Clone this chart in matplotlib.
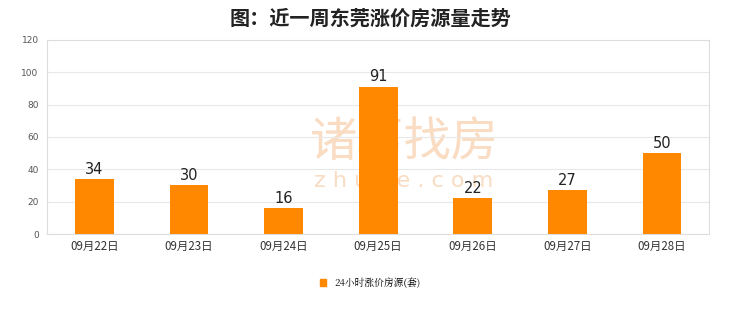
import matplotlib
matplotlib.use("Agg")
import matplotlib.pyplot as plt
from matplotlib.patches import Patch

plt.rcParams['font.family'] = ['Noto Sans CJK SC', 'DejaVu Sans']

categories = ["09月22日", "09月23日", "09月24日", "09月25日", "09月26日", "09月27日", "09月28日"]
values = [34, 30, 16, 91, 22, 27, 50]
series_name = "24小时涨价房源(套)"
title = "图：近一周东莞涨价房源量走势"
yticks = [0, 20, 40, 60, 80, 100, 120]

bar_color = "#FF8800"

fig = plt.figure(figsize=(7.4, 3.12), dpi=100)
ax = fig.add_axes([0.0635, 0.25, 0.895, 0.622])

x = list(range(len(categories)))
bars = ax.bar(x, values, width=0.41, color=bar_color, zorder=3)
for xi, v in zip(x, values):
    ax.text(xi, v + 1.5, str(v), ha='center', va='bottom', fontsize=10.5,
            color='#222222', family=['DejaVu Sans'], zorder=4)

ax.set_xlim(-0.5, len(categories) - 0.5)
ax.set_ylim(0, 120)
ax.set_yticks(yticks)
ax.set_yticklabels([str(t) for t in yticks], fontsize=6.5, color='#555555',
                   family=['DejaVu Sans'])
ax.set_xticks(x)
ax.set_xticklabels(categories, fontsize=8.3, color='#333333',
                   family=['Noto Sans CJK SC', 'DejaVu Sans'])
ax.tick_params(axis='both', length=0, pad=4)
ax.tick_params(axis='y', pad=6)
ax.grid(axis='y', color='#e8e8e8', linewidth=0.8, zorder=0)
for s in ax.spines.values():
    s.set_color('#dddddd')
    s.set_linewidth(0.8)

# watermark (behind bars)
ax.text(404 / 740, 1 - 143 / 312, "诸葛找房", transform=fig.transFigure,
        ha='center', va='center', fontsize=34, color='#f9dcc2', zorder=1)
ax.text(404 / 740, 1 - 181 / 312, "z h u g e . c o m", transform=fig.transFigure,
        ha='center', va='center', fontsize=16, color='#f9dcc2', zorder=1,
        family=['DejaVu Sans'])

fig.suptitle(title, y=0.975, fontsize=14.5, fontweight='bold', color='#222222')

handles = [Patch(facecolor=bar_color, edgecolor=bar_color)]
fig.legend(handles, [series_name], loc='center', bbox_to_anchor=(0.5, 0.093),
           frameon=False, handlelength=0.7, handleheight=0.7,
           handletextpad=0.8, prop={'family': ['Noto Serif CJK SC', 'Noto Sans CJK SC', 'DejaVu Serif'], 'size': 7})

fig.savefig("out.png", dpi=100, facecolor='white')
